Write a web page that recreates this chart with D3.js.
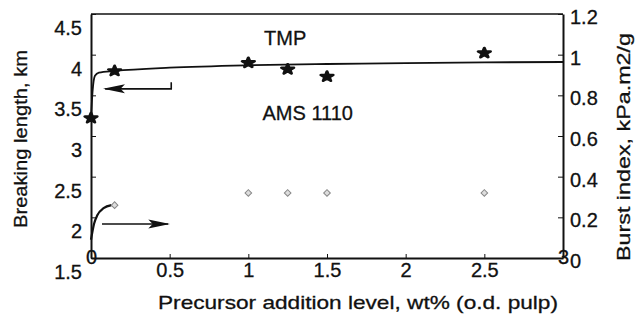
<!DOCTYPE html>
<html>
<head>
<meta charset="utf-8">
<script src="https://cdn.jsdelivr.net/npm/d3@7"></script>
<style>
  body { margin: 0; background: #fff; }
  text { font-family: "Liberation Sans", Arial, sans-serif; fill: #111; stroke: #111; stroke-width: 0.3px; }
</style>
</head>
<body>
<div id="chartDiv"></div>
<script>
// data
const xTicks = [0, 0.5, 1, 1.5, 2, 2.5, 3];
const leftTicks = [1.5, 2, 2.5, 3, 3.5, 4, 4.5];
const rightTicks = [0, 0.2, 0.4, 0.6, 0.8, 1, 1.2];

// TMP breaking length (left axis)
const tmpX = [0, 0.15, 1, 1.25, 1.5, 2.5];
const tmpY = [3.22, 3.80, 3.90, 3.82, 3.73, 4.02];
// fitted curve through TMP
const tmpFitX = [0, 0.01, 0.025, 0.05, 0.15, 0.5, 1, 1.5, 2, 2.5, 3];
const tmpFitY = [3.22, 3.55, 3.74, 3.78, 3.80, 3.84, 3.87, 3.885, 3.895, 3.905, 3.91];

// AMS 1110 burst index (right axis)
const amsX = [0, 0.15, 1, 1.25, 1.5, 2.5];
const amsY = [0.09, 0.26, 0.32, 0.32, 0.32, 0.32];
const amsFitX = [0, 0.02, 0.04, 0.08, 0.13];
const amsFitY = [0.09, 0.17, 0.21, 0.245, 0.26];

// set the dimensions and margins of the graph
const margin = {top: 14, right: 73, bottom: 66, left: 91},
    width = 636 - margin.left - margin.right,
    height = 324 - margin.top - margin.bottom;

const svg = d3.select("#chartDiv")
    .append("svg")
    .attr("width", width + margin.left + margin.right)
    .attr("height", height + margin.top + margin.bottom)
    .append("g")
    .attr("transform", "translate(" + margin.left + "," + margin.top + ")");

const x = d3.scaleLinear().domain([0, 3]).range([0, width]);
const yL = d3.scaleLinear().domain([1.5, 4.5]).range([height, 0]);
const yR = d3.scaleLinear().domain([0, 1.2]).range([height, 0]);

// top frame line
svg.append("line")
    .attr("x1", 0).attr("x2", width).attr("y1", 0).attr("y2", 0)
    .style("stroke", "#111").style("stroke-width", 1.6);

// axes
const fmt = d => d3.format("")(d);
const xAxis = svg.append("g")
    .attr("transform", "translate(0," + height + ")")
    .call(d3.axisBottom(x).tickValues(xTicks).tickFormat(fmt).tickSizeInner(-4).tickSizeOuter(0).tickPadding(5));
xAxis.selectAll("text")
    .filter(d => d === 0 || d === 3)
    .attr("y", -8);

const lAxis = svg.append("g")
    .call(d3.axisLeft(yL).tickValues(leftTicks).tickFormat(fmt).tickSizeInner(-5).tickSizeOuter(0).tickPadding(9));
lAxis.selectAll("text").attr("transform", "translate(0,14)");

const rAxis = svg.append("g")
    .attr("transform", "translate(" + width + ",0)")
    .call(d3.axisRight(yR).tickValues(rightTicks).tickFormat(fmt).tickSizeInner(-5).tickSizeOuter(0).tickPadding(7));
rAxis.selectAll("text").attr("transform", "translate(0,3)");

svg.selectAll(".domain").style("stroke", "#111").style("stroke-width", 2);
svg.selectAll(".tick line").style("stroke", "#111").style("stroke-width", 1);
svg.selectAll(".tick text").style("font-size", "20px").style("fill", "#111");

// fitted lines
const lineL = d3.line().x(d => x(d[0])).y(d => yL(d[1])).curve(d3.curveMonotoneX);
const lineR = d3.line().x(d => x(d[0])).y(d => yR(d[1])).curve(d3.curveMonotoneX);

svg.append("path")
    .datum(d3.zip(tmpFitX, tmpFitY))
    .attr("d", lineL)
    .style("fill", "none").style("stroke", "#111").style("stroke-width", 1.8);

svg.append("path")
    .datum(d3.zip(amsFitX, amsFitY))
    .attr("d", lineR)
    .style("fill", "none").style("stroke", "#111").style("stroke-width", 2.2);

// markers
svg.selectAll(".tmp")
    .data(d3.zip(tmpX, tmpY))
    .enter()
    .append("path")
    .attr("class", "tmp")
    .attr("transform", d => "translate(" + x(d[0]) + "," + yL(d[1]) + ") scale(1.25,1)")
    .attr("d", d3.symbol(d3.symbolStar, 30))
    .style("fill", "#111").style("stroke", "#111").style("stroke-width", 2.4)
    .style("stroke-linejoin", "round");

svg.selectAll(".ams")
    .data(d3.zip(amsX, amsY).slice(1))
    .enter()
    .append("path")
    .attr("class", "ams")
    .attr("transform", d => "translate(" + x(d[0]) + "," + yR(d[1]) + ") rotate(45)")
    .attr("d", d3.symbol(d3.symbolSquare, 22))
    .style("fill", "#ddd").style("stroke", "#888").style("stroke-width", 1);

// arrows
svg.append("defs").append("marker")
    .attr("id", "head")
    .attr("viewBox", "0 0 10 10")
    .attr("preserveAspectRatio", "none")
    .attr("refX", 9).attr("refY", 5)
    .attr("markerWidth", 22).attr("markerHeight", 10)
    .attr("markerUnits", "userSpaceOnUse")
    .attr("orient", "auto")
    .append("path")
    .attr("d", "M0,0.5L10,5L0,9.5L2,5Z")
    .style("fill", "#111");

// TMP arrow points to left axis
const tmpArrowY = 3.58;
svg.append("path")
    .attr("d", d3.line()([[x(0.51), yL(3.66)], [x(0.51), yL(tmpArrowY)], [x(0.09), yL(tmpArrowY)]]))
    .attr("marker-end", "url(#head)")
    .style("fill", "none").style("stroke", "#111").style("stroke-width", 1.6);

// AMS arrow points to right axis
const amsArrowY = 0.167;
svg.append("line")
    .attr("x1", x(0.07)).attr("x2", x(0.49))
    .attr("y1", yR(amsArrowY)).attr("y2", yR(amsArrowY))
    .attr("marker-end", "url(#head)")
    .style("stroke", "#111").style("stroke-width", 1.6);

// series labels
svg.append("text")
    .attr("x", x(1.1)).attr("y", yL(4.205)).attr("dy", "0.35em")
    .style("font-size", "20px")
    .text("TMP");
svg.append("text")
    .attr("x", x(1.09)).attr("y", yL(3.28)).attr("dy", "0.35em")
    .style("font-size", "20px")
    .text("AMS 1110");

// axis titles
const root = d3.select("svg");
root.append("text")
    .attr("transform", "translate(20,139) rotate(-90)")
    .attr("text-anchor", "middle").attr("dominant-baseline", "central")
    .attr("textLength", 178).attr("lengthAdjust", "spacingAndGlyphs")
    .style("font-size", "19px")
    .text("Breaking length, km");
root.append("text")
    .attr("transform", "translate(623,147) rotate(-90)")
    .attr("text-anchor", "middle").attr("dominant-baseline", "central")
    .attr("textLength", 228).attr("lengthAdjust", "spacingAndGlyphs")
    .style("font-size", "19px")
    .text("Burst index, kPa.m2/g");
root.append("text")
    .attr("x", 358).attr("y", 302)
    .attr("text-anchor", "middle").attr("dominant-baseline", "central")
    .attr("textLength", 400).attr("lengthAdjust", "spacingAndGlyphs")
    .style("font-size", "19px")
    .text("Precursor addition level, wt% (o.d. pulp)");
</script>
</body>
</html>
